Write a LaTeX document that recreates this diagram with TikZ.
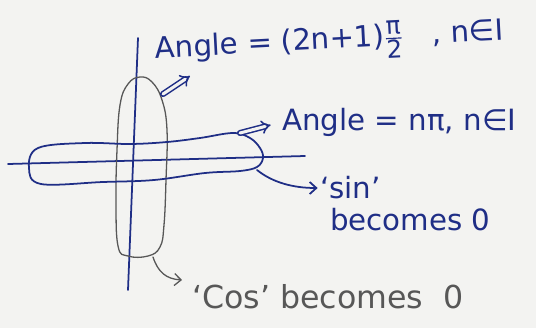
\documentclass[tikz,border=0pt]{standalone}
\usepackage{amsmath}
\usepackage{fontspec}
\setmainfont{DejaVu Sans}
\usetikzlibrary{arrows.meta, positioning}
\definecolor{inkblue}{HTML}{1F2E86}
\definecolor{pencil}{HTML}{575757}
\definecolor{paper}{HTML}{F3F3F1}
\newcommand{\halfsize}[1]{\mbox{\fontsize{21}{22}\selectfont #1}}
\tikzset{
  inkline/.style={draw=inkblue, line width=1.5pt, line cap=round, line join=round},
  pencilline/.style={draw=pencil, line width=1.1pt, line cap=round, line join=round},
  inktext/.style={text=inkblue, font=\fontsize{25}{30}\selectfont, inner sep=0pt, anchor=west},
  penciltext/.style={text=pencil, font=\fontsize{27}{32}\selectfont, inner sep=0pt, anchor=west},
  arrow/.style={-{Straight Barb[length=2mm, width=3.6mm]}},
  dblarrow/.style={draw=inkblue, line width=1.3pt, line cap=round, double=paper, double distance=2.6pt,
                   -{Implies[length=2.6mm, width=4.6mm]}}
}
\begin{document}
\begin{tikzpicture}[x=0.03cm, y=-0.03cm]
\fill[paper] (0,0) rectangle (536,328);
\useasboundingbox (0,0) rectangle (536,328);

% Axes
\coordinate (ytop) at (138,38);
\coordinate (ybot) at (128,290);
\coordinate (xleft) at (8,164);
\coordinate (xright) at (305,156);
\draw[inkline] (xleft) -- (xright);
\draw[inkline] (ytop) -- (ybot);

% Loops round the axes
\draw[pencilline] plot[smooth cycle, tension=0.7] coordinates {(140,77) (152,82) (162,100) (167,130) (166,180) (164,225) (160,247) (148,256) (128,256) (118,246) (116,200) (117,150) (120,105) (128,84)};
\draw[inkline] plot[smooth cycle, tension=0.6] coordinates {(29,168) (38,148) (85,143) (130,144) (167,142) (200,138) (233,133) (250,138) (260,148) (263,158) (257,167) (240,171) (205,173) (154,180) (103,182) (41,184)};
\coordinate (vloopside) at (163,94);
\coordinate (oddtip) at (190,76);
\coordinate (hlooptop) at (240,133);
\coordinate (hloopend) at (257,170);
\coordinate (vloopend) at (153,257);

% Labels
\node (oddlabel) [inktext, rotate=3] at (155,52) {Angle = (2n+1)$\frac{\halfsize{π}}{\halfsize{2}}$\quad, n∈I};
\node (evenlabel) [inktext] at (282,122) {Angle = nπ, n∈I};
\node (sinlabel) [inktext] at (320,188) {‘sin’};
\node (sinzero) [inktext] at (330,220) {becomes 0};
\node (coslabel) [penciltext] at (192,297) {‘Cos’ becomes\ \ 0};

% Arrows
\draw[dblarrow] (vloopside) -- (oddtip);
\draw[dblarrow, shorten >=10pt] (hlooptop) -- (evenlabel.west);
\draw[inkline, arrow, shorten >=2pt] (hloopend) .. controls (272,182) and (292,188) .. (sinlabel.west);
\draw[pencilline, arrow] (vloopend) .. controls (158,272) and (166,279) .. ([shift={(-10,-17)}]coslabel.west);
\end{tikzpicture}
\end{document}
